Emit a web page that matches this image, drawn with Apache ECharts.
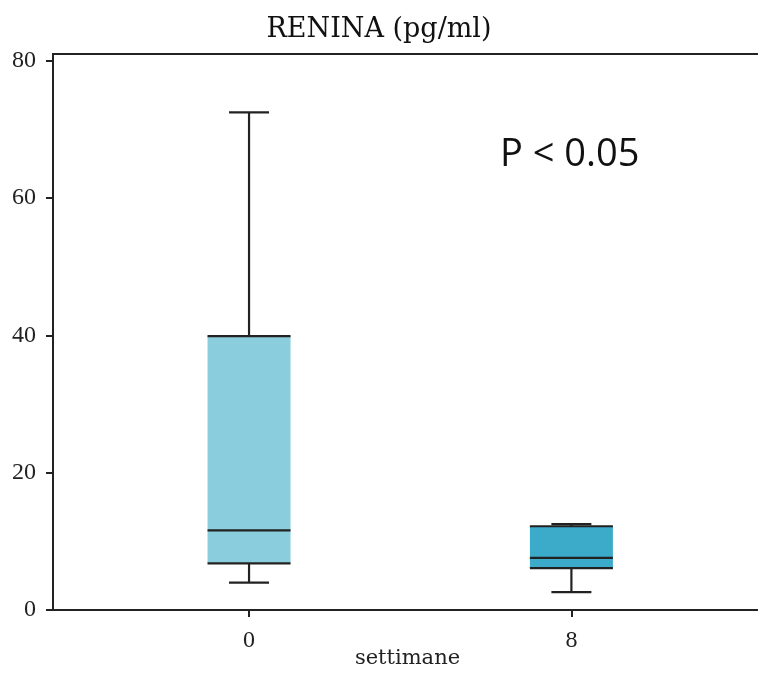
<!DOCTYPE html>
<html>
<head>
<meta charset="utf-8">
<script src="https://cdn.jsdelivr.net/npm/echarts@6/dist/echarts.min.js"></script>
<style>
html,body{margin:0;padding:0;background:#fff;}
#chart{width:758px;height:675px;}
</style>
</head>
<body>
<div id="chart"></div>
<script>
const categories = [0, 8];
const whiskerLow = [4.0, 2.6];
const q1 = [6.8, 6.1];
const median = [11.6, 7.6];
const q3 = [39.9, 12.2];
const whiskerHigh = [72.5, 12.5];
const yTicks = [0, 20, 40, 60, 80];
const xTicks = [0, 8];
const boxColors = ['#8ACDDC', '#3BABC9'];

const rows = categories.map((c, i) => [c, whiskerLow[i], q1[i], median[i], q3[i], whiskerHigh[i], i]);

const chart = echarts.init(document.getElementById('chart'));
const lineStyle = { stroke: '#222', lineWidth: 2.2 };
chart.setOption({
  animation: false,
  title: {
    text: 'RENINA (pg/ml)', left: 'center', top: 11,
    textStyle: { fontFamily: 'DejaVu Serif', fontWeight: 'normal', fontSize: 27, color: '#111' }
  },
  grid: { left: 53, right: -4, top: 54, bottom: 65, outerBoundsMode: 'none', containLabel: false, show: true, borderColor: '#222', borderWidth: 2, backgroundColor: 'transparent' },
  xAxis: {
    type: 'value', min: -4.865, max: 12.73,
    name: 'settimane', nameLocation: 'middle', nameGap: 38, nameMoveOverlap: false,
    nameTextStyle: { fontFamily: 'DejaVu Serif', fontSize: 21, color: '#222' },
    splitLine: { show: false },
    axisLine: { show: true, onZero: false, lineStyle: { color: '#222', width: 2 } },
    axisTick: { show: true, customValues: xTicks, length: 7, lineStyle: { color: '#222', width: 2 } },
    axisLabel: { customValues: xTicks, fontFamily: 'Liberation Serif', fontSize: 24, color: '#222', margin: 19 }
  },
  yAxis: {
    type: 'value', min: 0, max: 81,
    splitLine: { show: false },
    axisLine: { show: true, onZero: false, lineStyle: { color: '#222', width: 2 } },
    axisTick: { show: true, customValues: yTicks, length: 7, lineStyle: { color: '#222', width: 2 } },
    axisLabel: { customValues: yTicks, fontFamily: 'Liberation Serif', fontSize: 24, color: '#222', margin: 17 }
  },
  graphic: [{
    type: 'text', x: 500, y: 155,
    style: { text: 'P < 0.05', fontFamily: 'Open Sans', fontSize: 38, fill: '#111', verticalAlign: 'middle' }
  }],
  series: [{
    type: 'custom',
    data: rows,
    encode: { x: 0, y: [1, 2, 3, 4, 5] },
    renderItem: function (params, api) {
      const x = api.value(0);
      const idx = api.value(6);
      const pLo = api.coord([x, api.value(1)]);
      const pQ1 = api.coord([x, api.value(2)]);
      const pMed = api.coord([x, api.value(3)]);
      const pQ3 = api.coord([x, api.value(4)]);
      const pHi = api.coord([x, api.value(5)]);
      const cx = pLo[0];
      const hw = 41.5, cw = 20;
      return {
        type: 'group',
        children: [
          { type: 'line', shape: { x1: cx, y1: pQ1[1], x2: cx, y2: pLo[1] }, style: lineStyle },
          { type: 'line', shape: { x1: cx, y1: pQ3[1], x2: cx, y2: pHi[1] }, style: lineStyle },
          { type: 'line', shape: { x1: cx - cw, y1: pLo[1], x2: cx + cw, y2: pLo[1] }, style: lineStyle },
          { type: 'line', shape: { x1: cx - cw, y1: pHi[1], x2: cx + cw, y2: pHi[1] }, style: lineStyle },
          { type: 'rect', shape: { x: cx - hw, y: pQ3[1], width: 2 * hw, height: pQ1[1] - pQ3[1] }, style: { fill: boxColors[idx] } },
          { type: 'line', shape: { x1: cx - hw, y1: pQ1[1], x2: cx + hw, y2: pQ1[1] }, style: lineStyle },
          { type: 'line', shape: { x1: cx - hw, y1: pQ3[1], x2: cx + hw, y2: pQ3[1] }, style: lineStyle },
          { type: 'line', shape: { x1: cx - hw, y1: pMed[1], x2: cx + hw, y2: pMed[1] }, style: lineStyle }
        ]
      };
    }
  }]
});
</script>
</body>
</html>
